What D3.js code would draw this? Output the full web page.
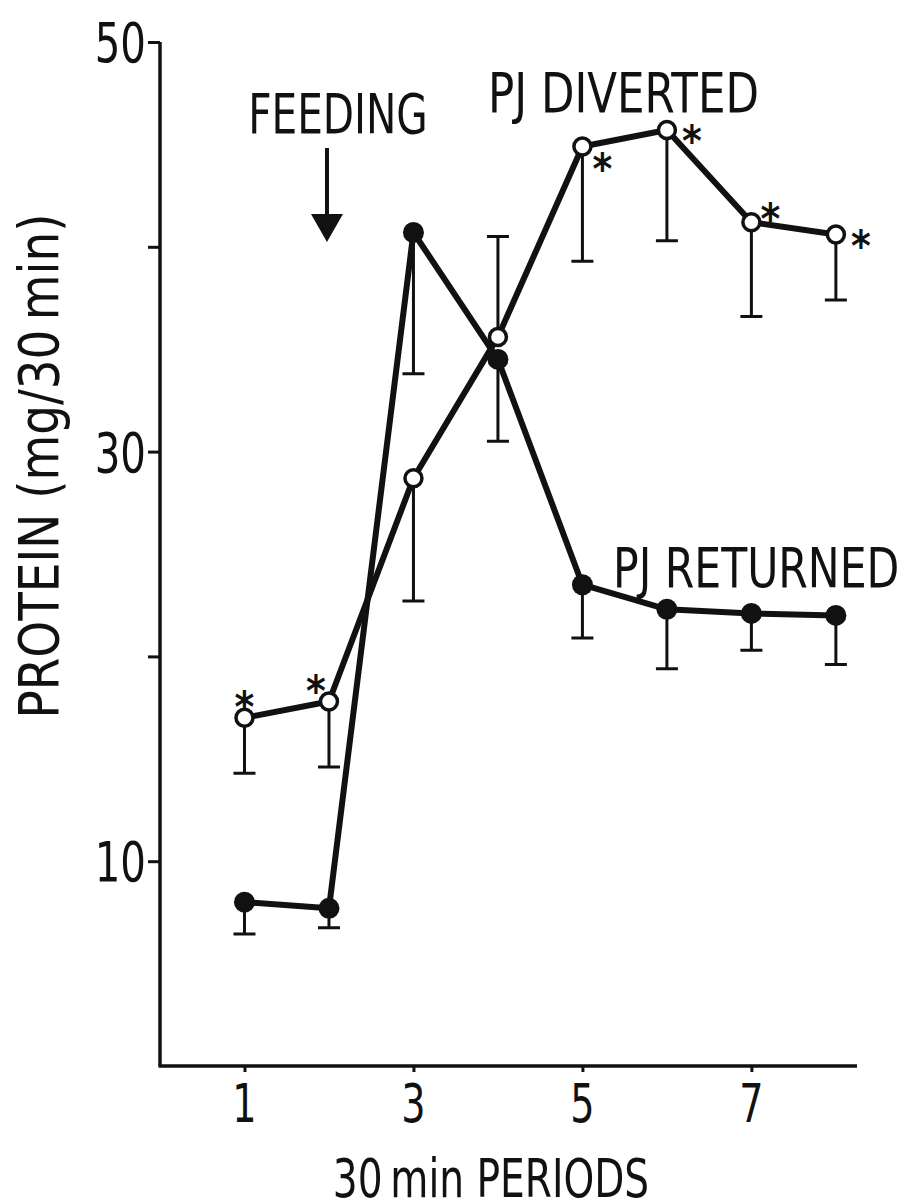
<!DOCTYPE html>
<html>
<head>
<meta charset="utf-8">
<script src="https://cdn.jsdelivr.net/npm/d3@7"></script>
<style>
  html, body { margin: 0; padding: 0; background: #fff; }
  svg text { font-family: "DejaVu Sans Condensed", "DejaVu Sans", sans-serif; fill: #111; }
</style>
</head>
<body>
<svg id="chart" width="903" height="1203"></svg>
<script>
// 30 min periods
const periods = [1, 2, 3, 4, 5, 6, 7, 8];

// PJ returned (filled circles), mean and lower error end
const returnedMean = [8.0, 7.7, 40.7, 34.5, 23.5, 22.3, 22.1, 22.0];
const returnedErr  = [6.45, 6.75, 33.8, 30.5, 20.9, 19.4, 20.3, 19.6];

// PJ diverted (open circles), mean and error end (above for period 4)
const divertedMean = [17.0, 17.8, 28.7, 35.6, 44.9, 45.7, 41.2, 40.6];
const divertedErr  = [14.3, 14.6, 22.7, 40.5, 39.3, 40.3, 36.6, 37.4];

// significance stars on the diverted series
const starPeriods = [1, 2, 5, 6, 7, 8];
const starSide    = ['top', 'topleft', 'bottomright', 'right', 'topright', 'right'];

const yTicks      = [10, 20, 30, 40, 50];
const yTickLabels = [10, 30, 50];
const xTicks      = [1, 3, 5, 7];

const feedingPeriod = 2;

const svg = d3.select('#chart');
const ink = '#111';

const x = d3.scaleLinear().domain([0, 8.25]).range([160, 857]);
const y = d3.scaleLinear().domain([0, 50]).range([1066, 42]);

// squeeze text horizontally to get the narrow lettering of the original
function squeeze(sel, f) {
    sel.each(function () {
        const w = this.getComputedTextLength();
        d3.select(this).attr('textLength', w * f).attr('lengthAdjust', 'spacingAndGlyphs');
    });
}

// axes
const yAxis = d3.axisLeft(y).tickValues(yTicks).tickSize(12).tickFormat('');
const gy = svg.append('g').attr('transform', `translate(${x(0)},0)`).call(yAxis);
gy.select('.domain').attr('d', `M0,${y(50)}V${y(0)}`).attr('stroke', ink).attr('stroke-width', 3.5);
gy.selectAll('.tick line').attr('stroke', ink).attr('stroke-width', 3);

const xAxis = d3.axisBottom(x).tickValues(xTicks).tickSize(6).tickFormat('');
const gx = svg.append('g').attr('transform', `translate(0,${y(0)})`).call(xAxis);
gx.select('.domain').attr('d', `M${x(0) - 1.5},0H${x(8.25)}`).attr('stroke', ink).attr('stroke-width', 3.5);
gx.selectAll('.tick line').attr('stroke', ink).attr('stroke-width', 3);

// tick labels
svg.append('g').selectAll('text').data(yTickLabels).join('text')
    .attr('x', 146).attr('y', d => y(d) + 20)
    .attr('text-anchor', 'end').attr('font-size', 56)
    .text(d => d)
    .call(squeeze, 0.8);

svg.append('g').selectAll('text').data(xTicks).join('text')
    .attr('x', d => x(d)).attr('y', 1122)
    .attr('text-anchor', 'middle').attr('font-size', 53)
    .text(d => d)
    .call(squeeze, 0.8);

// axis titles
svg.append('text')
    .attr('x', 491).attr('y', 1197)
    .attr('text-anchor', 'middle').attr('font-size', 53)
    .text('30\u2009min PERIODS')
    .call(squeeze, 0.82);

svg.append('text')
    .attr('transform', 'translate(58,466) rotate(-90)')
    .attr('text-anchor', 'middle').attr('font-size', 56)
    .text('PROTEIN (mg/30\u2009min)')
    .each(function () {
        d3.select(this).attr('textLength', 505).attr('lengthAdjust', 'spacingAndGlyphs');
    });

// error bars
function errorBars(mean, err) {
    const g = svg.append('g').attr('stroke', ink).attr('stroke-width', 3).attr('fill', 'none');
    g.selectAll('path').data(periods).join('path')
        .attr('d', (p, i) => {
            const cx = x(p), y0 = y(mean[i]), y1 = y(err[i]);
            return `M${cx},${y0}V${y1}M${cx - 11},${y1}H${cx + 11}`;
        });
}
errorBars(returnedMean, returnedErr);
errorBars(divertedMean, divertedErr);

// series lines
const line = d3.line().x((d, i) => x(periods[i])).y(d => y(d));
svg.append('path').datum(returnedMean).attr('d', line)
    .attr('fill', 'none').attr('stroke', ink).attr('stroke-width', 6).attr('stroke-linejoin', 'round');
svg.append('path').datum(divertedMean).attr('d', line)
    .attr('fill', 'none').attr('stroke', ink).attr('stroke-width', 6).attr('stroke-linejoin', 'round');

// markers
svg.append('g').selectAll('circle').data(returnedMean).join('circle')
    .attr('cx', (d, i) => x(periods[i])).attr('cy', d => y(d)).attr('r', 10.5)
    .attr('fill', ink);
svg.append('g').selectAll('circle').data(divertedMean).join('circle')
    .attr('cx', (d, i) => x(periods[i])).attr('cy', d => y(d)).attr('r', 8.5)
    .attr('fill', '#fff').attr('stroke', ink).attr('stroke-width', 3.5);

// stars
const starOffset = {
    top: [0, -20], topleft: [-13, -19], bottomright: [20, 14],
    right: [25, 2], topright: [19, -12]
};
svg.append('g').selectAll('text').data(starPeriods).join('text')
    .attr('x', (p, i) => x(p) + starOffset[starSide[i]][0])
    .attr('y', (p, i) => y(divertedMean[periods.indexOf(p)]) + starOffset[starSide[i]][1] + 24)
    .attr('text-anchor', 'middle').attr('font-size', 42).attr('font-weight', 'bold')
    .text('*');

// feeding arrow
const ax = x(feedingPeriod) - 2;
svg.append('line').attr('x1', ax).attr('x2', ax).attr('y1', 148).attr('y2', 218)
    .attr('stroke', ink).attr('stroke-width', 4);
svg.append('path').attr('d', `M${ax - 16},214L${ax + 16},214L${ax},242Z`).attr('fill', ink);

svg.append('text').attr('x', 338).attr('y', 133)
    .attr('text-anchor', 'middle').attr('font-size', 55).text('FEEDING')
    .call(squeeze, 0.82);

// series labels
svg.append('text').attr('x', 488).attr('y', 112)
    .attr('font-size', 55).text('PJ DIVERTED')
    .call(squeeze, 0.88);
svg.append('text').attr('x', 613).attr('y', 587)
    .attr('font-size', 55).text('PJ RETURNED')
    .call(squeeze, 0.86);
</script>
</body>
</html>
